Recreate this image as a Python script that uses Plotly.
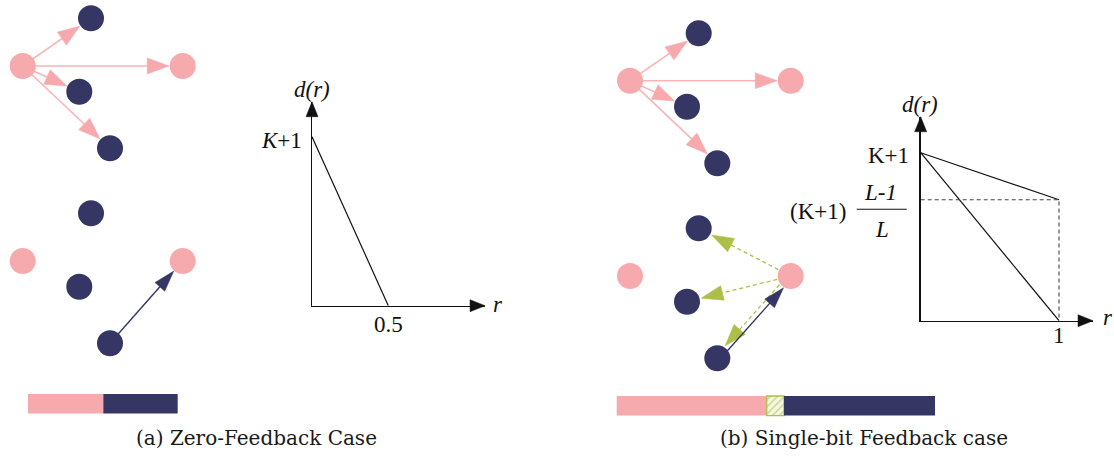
import numpy as np
import plotly.graph_objects as go

W, H = 1114, 456
PINK = "#F7AAAD"
PINK_LINE = "#F8B4B6"
NAVY = "#353664"
GREEN = "#AEBF48"
INK = "#111111"

# ---------------- data ----------------
# node positions of the two network sketches (diagram units = pixels)
nodes_a_x = [22.7, 91, 79.3, 110, 182.7, 91, 22.7, 79.3, 182.7, 110]
nodes_a_y = [66, 18.3, 91.7, 148.3, 66, 213.3, 261, 286.7, 261, 343.3]
nodes_a_kind = ["P", "N", "N", "N", "P", "N", "P", "N", "P", "N"]
nodes_b_x = [630, 698.7, 687, 717.3, 790.7, 698.7, 630, 687, 790.7, 717.3]
nodes_b_y = [80.7, 33.3, 106.7, 163.3, 80.7, 228.3, 276, 301.7, 276, 358.3]
nodes_b_kind = ["P", "N", "N", "N", "P", "N", "P", "N", "P", "N"]

links_pink = [(0, 1), (0, 2), (0, 3), (0, 4)]
links_navy = [(9, 8)]
links_green_b = [(8, 5), (8, 7), (8, 9)]

# resource bars (segment lengths)
bar_a_start = 28
bar_a_lengths = [75.3, 74.4]
bar_a_kind = ["P", "N"]
bar_b_start = 616.7
bar_b_lengths = [150, 17.3, 151]
bar_b_kind = ["P", "F", "N"]

# d(r) graphs (normalised: K+1 = 1)
ga_r = [0, 0.5]
ga_d = [1, 0]
gb_upper_r = [0, 1]
gb_upper_d = [1, 0.72]
gb_diag_r = [0, 1]
gb_diag_d = [1, 0]
frac_level = 0.72
gb_dash_r = [0, 1, 1]
gb_dash_d = [frac_level, frac_level, 0]

captions = ["(a) Zero-Feedback Case", "(b) Single-bit Feedback case"]

# ---------------- layout parameters ----------------
GA = dict(ox=312, oy=305.7, ux=152.6, uy=169, xmax=1.134, ymax=1.207)
GB = dict(ox=920.7, oy=320.7, ux=138.3, uy=168, xmax=1.246, ymax=1.214)
NODE_SIZE = 26
COL = {"P": PINK, "N": NAVY}

fig = go.Figure()


def arrow_geom(p0, p1, start_off, end_off, head_len, head_w, perp):
    p0 = np.array(p0, float)
    p1 = np.array(p1, float)
    d = p1 - p0
    u = d / np.linalg.norm(d)
    n = np.array([-u[1], u[0]])
    s = p0 + u * start_off + n * perp
    tip = p1 - u * end_off + n * perp
    base = tip - u * head_len
    line = [s, tip - u * head_len * 0.6]
    head = [tip, base + n * head_w / 2, base - n * head_w / 2, tip]
    return line, head


def add_arrows(segs, line_color, head_color, width, dash, head_len, head_w,
               end_off=13.5, perp=0.0):
    lx, ly, hx, hy = [], [], [], []
    for p0, p1 in segs:
        line, head = arrow_geom(p0, p1, 0, end_off, head_len, head_w, perp)
        lx += [line[0][0], line[1][0], None]
        ly += [line[0][1], line[1][1], None]
        hx += [q[0] for q in head] + [None]
        hy += [q[1] for q in head] + [None]
    fig.add_trace(go.Scatter(x=lx, y=ly, mode="lines", hoverinfo="skip",
                             line=dict(color=line_color, width=width, dash=dash),
                             xaxis="x", yaxis="y"))
    fig.add_trace(go.Scatter(x=hx, y=hy, mode="lines", fill="toself",
                             fillcolor=head_color, hoverinfo="skip",
                             line=dict(color=head_color, width=0.5),
                             xaxis="x", yaxis="y"))


def pts(xs, ys, links):
    return [((xs[a], ys[a]), (xs[b], ys[b])) for a, b in links]


# pink broadcast arrows
add_arrows(pts(nodes_a_x, nodes_a_y, links_pink) + pts(nodes_b_x, nodes_b_y, links_pink),
           PINK_LINE, PINK, 1.6, "solid", 22, 16)
# green dashed feedback arrows
for a, b in links_green_b:
    add_arrows(pts(nodes_b_x, nodes_b_y, [(a, b)]), GREEN, GREEN, 1.3, "4px,3px", 22, 15,
               end_off=14.5, perp=2.5 if b == 9 else 0.0)
# navy uplink arrows
add_arrows(pts(nodes_a_x, nodes_a_y, links_navy), NAVY, NAVY, 1.4, "solid", 21, 13)
add_arrows(pts(nodes_b_x, nodes_b_y, links_navy), NAVY, NAVY, 1.4, "solid", 21, 13,
           perp=2.5)

# nodes
fig.add_trace(go.Scatter(
    x=nodes_a_x + nodes_b_x, y=nodes_a_y + nodes_b_y, mode="markers",
    hoverinfo="skip",
    marker=dict(size=NODE_SIZE, color=[COL[k] for k in nodes_a_kind + nodes_b_kind],
                line=dict(width=0)),
    xaxis="x", yaxis="y"))


# resource bars
def add_bar(start, lengths, kinds, yc, h):
    bases = list(np.cumsum([start] + lengths[:-1]))
    for b, l, k in zip(bases, lengths, kinds):
        if k == "F":
            marker = dict(color="#FFFFFF",
                          pattern=dict(shape="/", fgcolor=GREEN, bgcolor="#F5F8E6",
                                       size=5, solidity=0.35),
                          line=dict(color=GREEN, width=1.3))
        else:
            marker = dict(color=COL[k], line=dict(width=0))
        fig.add_trace(go.Bar(orientation="h", y=[yc], x=[l], base=[b], width=h,
                             marker=marker, hoverinfo="skip", xaxis="x", yaxis="y"))


add_bar(bar_a_start, bar_a_lengths, bar_a_kind, 403.7, 19.4)
add_bar(bar_b_start, bar_b_lengths, bar_b_kind, 405.8, 19.6)


# graphs
def gpx(g, r, d):
    return g["ox"] + r * g["ux"], g["oy"] - d * g["uy"]


def axis_heads(g, hl=15, hw=12):
    xt, yt = gpx(g, g["xmax"], 0)
    xs = [xt, xt - hl, xt - hl, xt, None]
    ys = [yt, yt - hw / 2, yt + hw / 2, yt, None]
    xu, yu = gpx(g, 0, g["ymax"])
    xs += [xu, xu - hw / 2, xu + hw / 2, xu]
    ys += [yu, yu + hl, yu + hl, yu]
    fig.add_trace(go.Scatter(x=xs, y=ys, mode="lines", fill="toself", fillcolor=INK,
                             line=dict(color=INK, width=0.5), hoverinfo="skip",
                             xaxis="x", yaxis="y"))


axis_heads(GA)
axis_heads(GB)

fig.add_trace(go.Scatter(x=ga_r, y=ga_d, mode="lines", line=dict(color=INK, width=1.2),
                         hoverinfo="skip", xaxis="x2", yaxis="y2"))
fig.add_trace(go.Scatter(x=gb_upper_r, y=gb_upper_d, mode="lines",
                         line=dict(color=INK, width=1.2), hoverinfo="skip",
                         xaxis="x3", yaxis="y3"))
fig.add_trace(go.Scatter(x=gb_diag_r, y=gb_diag_d, mode="lines",
                         line=dict(color=INK, width=1.2), hoverinfo="skip",
                         xaxis="x3", yaxis="y3"))
fig.add_trace(go.Scatter(x=gb_dash_r, y=gb_dash_d, mode="lines",
                         line=dict(color="#444444", width=1.1, dash="4px,3px"),
                         hoverinfo="skip", xaxis="x3", yaxis="y3"))


def gaxes(g):
    x0 = g["ox"] / W
    x1 = (g["ox"] + g["xmax"] * g["ux"]) / W
    y0 = (H - g["oy"]) / H
    y1 = (H - g["oy"] + g["ymax"] * g["uy"]) / H
    common = dict(showline=True, linecolor=INK, linewidth=1.3, showgrid=False,
                  zeroline=False, showticklabels=False, ticks="", fixedrange=True)
    return (dict(domain=[x0, x1], range=[0, g["xmax"]], **common),
            dict(domain=[y0, y1], range=[0, g["ymax"]], **common))


xa2, ya2 = gaxes(GA)
xa3, ya3 = gaxes(GB)
xa2["anchor"] = "y2"
ya2["anchor"] = "x2"
xa3["anchor"] = "y3"
ya3["anchor"] = "x3"

hidden = dict(visible=False, showgrid=False, zeroline=False, fixedrange=True)
fig.update_layout(
    width=W, height=H, autosize=False,
    margin=dict(l=0, r=0, t=0, b=0, pad=0),
    paper_bgcolor="white", plot_bgcolor="rgba(0,0,0,0)",
    showlegend=False, barmode="overlay",
    xaxis=dict(domain=[0, 1], range=[0, W], **hidden),
    yaxis=dict(domain=[0, 1], range=[H, 0], **hidden),
    xaxis2=xa2, yaxis2=ya2, xaxis3=xa3, yaxis3=ya3,
)

SERIF = "Liberation Serif"
TF = dict(family=SERIF, size=23, color=INK)
ann = []


def A(text, x, y, xref, yref, xanchor="center", yanchor="middle", xshift=0, yshift=0,
      font=TF):
    ann.append(dict(text=text, x=x, y=y, xref=xref, yref=yref, showarrow=False,
                    xanchor=xanchor, yanchor=yanchor, xshift=xshift, yshift=yshift,
                    font=font))


# graph (a) labels
A("<i>d(r)</i>", 0, GA["ymax"], "x2", "y2", yshift=12)
A("<i>r</i>", GA["xmax"], 0, "x2", "y2", xshift=13, yshift=1)
A("<i>K</i>+1", 0, 1, "x2", "y2", xanchor="right", xshift=-8, yshift=-4)
A("0.5", 0.5, 0, "x2", "y2", yshift=-19)
# graph (b) labels
A("<i>d(r)</i>", 0, GB["ymax"], "x3", "y3", xshift=-1, yshift=12)
A("<i>r</i>", GB["xmax"], 0, "x3", "y3", xshift=15, yshift=3)
A("K+1", 0, 1, "x3", "y3", xanchor="right", xshift=-10, yshift=-3)
A("1", 1, 0, "x3", "y3", yshift=-15)
A("(K+1)", 0, frac_level, "x3", "y3", xanchor="right", xshift=-73, yshift=-12)
A("<i>L-1</i>", 0, frac_level, "x3", "y3", xshift=-40, yshift=7)
A("<i>L</i>", 0, frac_level, "x3", "y3", xshift=-39, yshift=-30)
# captions
CF = dict(family="DejaVu Serif", size=20, color="#1a1a1a")
A(captions[0], 256, 438, "x", "y", font=CF)
A(captions[1], 864, 438, "x", "y", font=CF)
fig.update_layout(annotations=ann)

# fraction bar (drawn on the full-page axes, positioned from graph (b)'s scale)
fx, fy = gpx(GB, 0, frac_level)
fig.add_shape(type="line", xref="x", yref="y", x0=fx - 64, x1=fx - 14,
              y0=fy + 9.5, y1=fy + 9.5, line=dict(color=INK, width=1.2))

fig.write_html("out.html",
               config={"displayModeBar": False, "staticPlot": True},
               post_script="document.body.style.margin='0';"
                           "document.body.style.overflow='hidden';")
